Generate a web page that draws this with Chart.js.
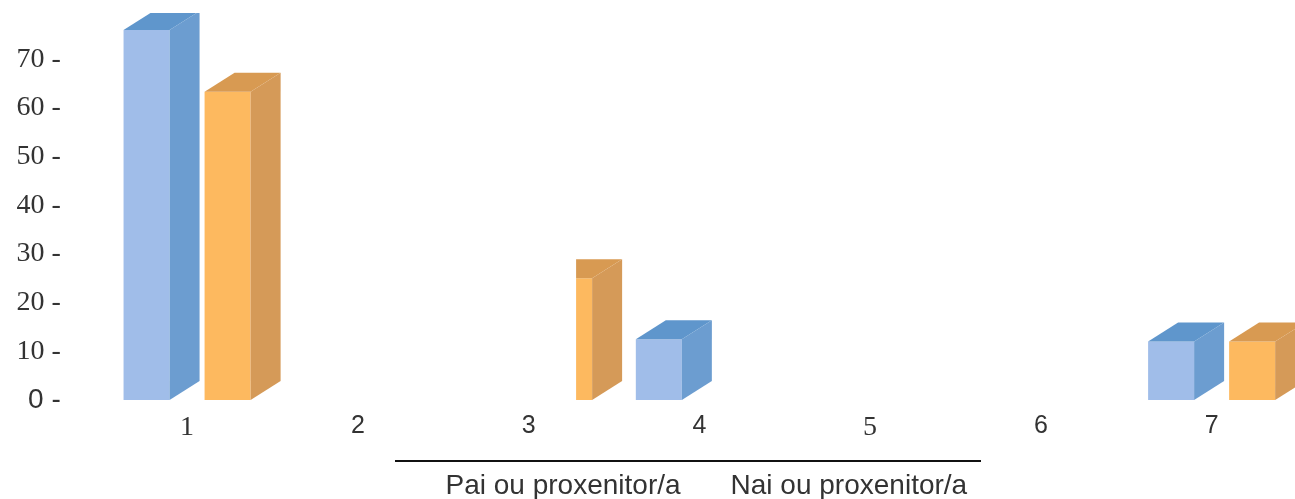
<!DOCTYPE html>
<html>
<head>
<meta charset="utf-8">
<style>
html,body{margin:0;padding:0;background:#fff;overflow:hidden}
#wrap{width:1295px;height:499px;overflow:hidden;position:relative}
#wrap canvas{position:absolute;left:0;top:0}
</style>
<script src="https://cdn.jsdelivr.net/npm/chart.js@4"></script>
</head>
<body>
<div id="wrap"><div style="width:1297px;height:499px"><canvas id="c"></canvas></div></div>
<script>
const categories = ['1','2','3','4','5','6','7'];
const paiValues = [76, null, null, 12.5, null, null, 12];
const naiValues = [63.3, null, 25, null, null, null, 12];
const seriesNames = ['Pai ou proxenitor/a', 'Nai ou proxenitor/a'];
const yMax = 79.5;
const yStep = 10;

const serifFont = '"Liberation Serif"';
const sansFont = '"Liberation Sans"';
const sansCategories = ['2','3','4','6','7'];

const palette = [
  {front:'#a0bde9', side:'#6c9dd0', top:'#5f96cc'},
  {front:'#fdb95f', side:'#d59a58', top:'#d89a52'}
];
const DX = 30, DY = 19;

const bars3d = {
  id:'bars3d',
  afterDatasetsDraw(chart){
    const {ctx, chartArea:a} = chart;
    ctx.save();
    ctx.beginPath();
    ctx.rect(0, a.top, chart.width, a.bottom - a.top + 2);
    ctx.clip();
    chart.data.datasets.forEach((ds, di) => {
      const c = palette[di];
      chart.getDatasetMeta(di).data.forEach((bar, i) => {
        if (ds.data[i] == null) return;
        const p = bar.getProps(['x','y','base','width'], true);
        const l = p.x - p.width/2, r = p.x + p.width/2, t = p.y, b = p.base;
        ctx.fillStyle = c.side;
        ctx.beginPath();
        ctx.moveTo(r,t); ctx.lineTo(r+DX,t-DY); ctx.lineTo(r+DX,b-DY); ctx.lineTo(r,b);
        ctx.closePath(); ctx.fill();
        ctx.fillStyle = c.top;
        ctx.beginPath();
        ctx.moveTo(l,t); ctx.lineTo(l+DX,t-DY); ctx.lineTo(r+DX,t-DY); ctx.lineTo(r,t);
        ctx.closePath(); ctx.fill();
      });
    });
    ctx.restore();
    // the third orange bar is cut off on its left in the source picture
    const cut = chart.getDatasetMeta(1).data[2].getProps(['x','y','base','width'], true);
    ctx.fillStyle = '#fff';
    ctx.fillRect(cut.x - cut.width/2 - 1, cut.y - DY - 2, 31, cut.base - cut.y + DY + 4);
    // rule above the legend
    ctx.fillStyle = '#111';
    ctx.fillRect(395, 460, 586, 2);
  }
};

new Chart(document.getElementById('c'), {
  type:'bar',
  data:{
    labels:categories,
    datasets:[
      {label:seriesNames[0], data:paiValues, backgroundColor:palette[0].front, borderWidth:0},
      {label:seriesNames[1], data:naiValues, backgroundColor:palette[1].front, borderWidth:0}
    ]
  },
  plugins:[bars3d],
  options:{
    responsive:true,
    maintainAspectRatio:false,
    animation:false,
    layout:{padding:{top:13,left:0,right:0,bottom:-11}},
    datasets:{bar:{categoryPercentage:0.949, barPercentage:0.568}},
    scales:{
      x:{
        grid:{display:false, drawTicks:false},
        border:{display:false},
        afterFit(s){ s.height = 36; },
        ticks:{
          padding:11,
          maxRotation:0,
          color:'#333',
          font:(ctx)=>{
            const sans = sansCategories.includes(String(ctx.tick && ctx.tick.label));
            return {family: sans ? sansFont : serifFont, size: sans ? 25 : 28};
          }
        }
      },
      y:{
        min:0,
        max:yMax,
        grid:{display:false, drawTicks:false},
        border:{display:false},
        afterFit(s){ s.width = 101.7; s.paddingTop = 0; s.paddingBottom = 0; },
        afterBuildTicks(s){ s.ticks = s.ticks.filter(t => t.value % yStep === 0); },
        ticks:{
          stepSize:yStep,
          padding:41,
          color:'#333',
          callback:(v)=> v + ' -',
          font:(ctx)=>({family: ctx.tick && ctx.tick.value === 0 ? sansFont : serifFont, size:28})
        }
      }
    },
    plugins:{
      tooltip:{enabled:false},
      legend:{
        display:true,
        position:'bottom',
        fullSize:false,
        onClick:null,
        labels:{boxWidth:0, boxHeight:0, padding:36, color:'#333', font:{family:sansFont, size:28}}
      }
    }
  }
});
</script>
</body>
</html>
